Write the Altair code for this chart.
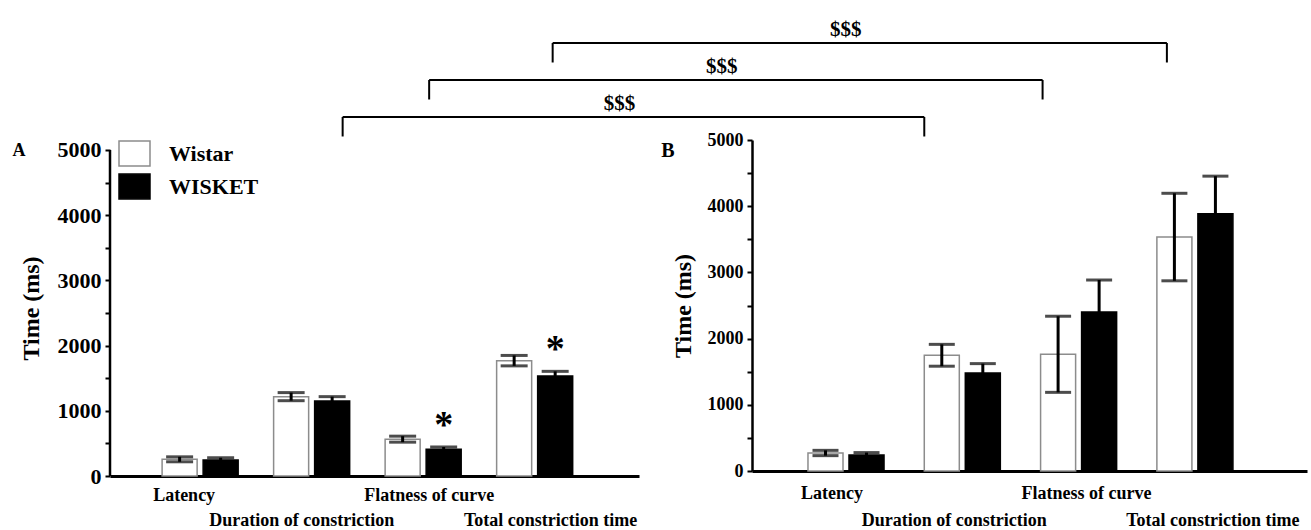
import altair as alt
import pandas as pd

FONT = "Liberation Serif"

measures = ["Latency", "Duration of constriction", "Flatness of curve", "Total constriction time"]
groups = ["Wistar", "WISKET"]

# Panel A: mean and SEM (ms)
a_wistar_mean = [256, 1217, 565, 1769]
a_wistar_sem = [38, 62, 46, 80]
a_wisket_mean = [245, 1150, 409, 1533]
a_wisket_sem = [35, 67, 36, 72]

# Panel B: mean and SEM (ms)
b_wistar_mean = [272, 1748, 1763, 3534]
b_wistar_sem = [40, 165, 575, 661]
b_wisket_mean = [240, 1481, 2403, 3887]
b_wisket_sem = [38, 141, 482, 567]

# WISKET vs Wistar differences marked in panel A
a_starred = ["Flatness of curve", "Total constriction time"]

# A vs B comparisons drawn as brackets across the panels
bracket_measures = ["Duration of constriction", "Flatness of curve", "Total constriction time"]
bracket_text = ["$$$", "$$$", "$$$"]


def frame(wm, ws, km, ks):
    rows = []
    for i, m in enumerate(measures):
        rows.append({"measure": m, "group": "Wistar", "mean": wm[i], "sem": ws[i]})
        rows.append({"measure": m, "group": "WISKET", "mean": km[i], "sem": ks[i]})
    df = pd.DataFrame(rows)
    df["lo"] = df["mean"] - df["sem"]
    df["hi"] = df["mean"] + df["sem"]
    return df


df_a = frame(a_wistar_mean, a_wistar_sem, a_wisket_mean, a_wisket_sem)
df_b = frame(b_wistar_mean, b_wistar_sem, b_wisket_mean, b_wisket_sem)

# panel geometry
GAP = 113
PANEL_A = dict(width=529, height=336, ymax=5153, pi=0.318, po=0.531, align=0.44, pi2=0.146,
               xfs=18, row1=19, row2=44, yfs=22, tpad=14, cap=27, letter="A", lfs=18,
               lx=-91, ly=16, axis_rule=True, legend=True)
PANEL_B = dict(width=555, height=331, ymax=5000, pi=0.312, po=0.542, align=0.444, pi2=0.14,
               xfs=18, row1=22, row2=49, yfs=18, tpad=12, cap=26, letter="B", lfs=20,
               lx=-84, ly=17, axis_rule=False, legend=False)

label_shift = {"Latency": -16, "Duration of constriction": -10,
               "Flatness of curve": 6, "Total constriction time": 16}
second_row = ["Duration of constriction", "Total constriction time"]


def band_centers(width, pi, po, align, n=4):
    step = width / (n - pi + 2 * po)
    bw = step * (1 - pi)
    start = (width - step * (n - pi)) * align
    return [start + i * step + bw / 2 for i in range(n)], bw


def panel(df, p):
    row_test = "indexof(" + str(second_row) + ", datum.value) >= 0"
    x = alt.X(
        "measure:N", sort=measures,
        scale=alt.Scale(paddingInner=p["pi"], paddingOuter=p["po"], align=p["align"]),
        axis=alt.Axis(
            title=None, domainWidth=3, domainColor="black", ticks=False, labelAngle=0,
            labelFont=FONT, labelFontWeight="bold", labelFontSize=p["xfs"], labelColor="black",
            labelBaseline="middle", labelLimit=400,
            labelPadding={"condition": {"test": row_test, "value": p["row2"]}, "value": p["row1"]},
            labelOffset={"condition": [{"test": f"datum.value === '{k}'", "value": v}
                                       for k, v in label_shift.items()], "value": 0},
        ),
    )
    xo = alt.XOffset("group:N", sort=groups, scale=alt.Scale(paddingInner=p["pi2"], paddingOuter=0))
    yaxis = alt.Axis(
        title="Time (ms)", values=list(range(0, 5001, 500)), format="d",
        labelExpr="datum.value % 1000 === 0 ? datum.label : ''",
        grid=False, domain=not p["axis_rule"], domainWidth=2.5, domainColor="black",
        tickColor="black", tickWidth=2, tickSize=5, labelPadding=4,
        labelFont=FONT, labelFontWeight="bold", labelFontSize=p["yfs"], labelColor="black",
        titleFont=FONT, titleFontWeight="bold", titleFontSize=24, titleColor="black",
        titlePadding=p["tpad"],
    )
    yscale = alt.Scale(domain=[0, p["ymax"]], nice=False, zero=True)

    if p["legend"]:
        legend = alt.Legend(
            title=None, orient="none", legendX=8, legendY=-3,
            symbolType="M-1,-0.8H1V0.8H-1Z", symbolSize=961, symbolStrokeWidth=1.5,
            labelFont=FONT, labelFontSize=22, labelFontWeight="bold", labelColor="black",
            labelOffset=18, rowPadding=1,
        )
    else:
        legend = None

    fill = alt.Fill("group:N", sort=groups, scale=alt.Scale(domain=groups, range=["white", "black"]),
                    legend=legend)
    stroke = alt.Stroke("group:N", sort=groups, scale=alt.Scale(domain=groups, range=["#8c8c8c", "black"]),
                        legend=legend)

    base = alt.Chart(df)
    bars = base.mark_bar(strokeWidth=1.5).encode(
        x=x, xOffset=xo, y=alt.Y("mean:Q", scale=yscale, axis=yaxis), fill=fill, stroke=stroke)
    whisk = base.mark_rule(color="black", strokeWidth=3).encode(
        x=x, xOffset=xo, y=alt.Y("lo:Q", scale=yscale, axis=yaxis), y2="hi:Q")
    caps = base.transform_fold(["lo", "hi"], as_=["end", "v"]).mark_tick(
        color="black", thickness=3, size=p["cap"]).encode(
        x=x, xOffset=xo, y=alt.Y("v:Q", scale=yscale, axis=yaxis))
    letter = alt.Chart(pd.DataFrame({"t": [p["letter"]]})).mark_text(
        font=FONT, fontWeight="bold", fontSize=p["lfs"], color="black", baseline="alphabetic",
        align="center").encode(text="t:N", x=alt.value(p["lx"]), y=alt.value(p["ly"]))
    layers = [bars, whisk, caps, letter]

    if p["axis_rule"]:
        axis_line = alt.Chart(pd.DataFrame({"a": [0], "b": [5000]})).mark_rule(
            color="black", strokeWidth=2.5).encode(
            x=alt.value(0), y=alt.Y("a:Q", scale=yscale, axis=yaxis), y2="b:Q")
        layers.append(axis_line)

    if p["legend"]:
        stars = base.transform_filter(
            alt.FieldOneOfPredicate(field="measure", oneOf=a_starred)
        ).transform_filter(alt.datum.group == "WISKET").mark_text(
            text="*", font=FONT, fontWeight="bold", fontSize=38, color="black",
            baseline="alphabetic", dy=-10).encode(
            x=x, xOffset=xo, y=alt.Y("hi:Q", scale=yscale, axis=yaxis))
        layers.append(stars)

    return alt.layer(*layers).properties(width=p["width"], height=p["height"])


chart_a = panel(df_a, PANEL_A)
chart_b = panel(df_b, PANEL_B)

# bracket strip spanning both panels; x runs in strip pixels from panel A's plot origin
STRIP_W = PANEL_A["width"] + GAP + PANEL_B["width"]
STRIP_H = 135
ca, _ = band_centers(PANEL_A["width"], PANEL_A["pi"], PANEL_A["po"], PANEL_A["align"])
cb, bwb = band_centers(PANEL_B["width"], PANEL_B["pi"], PANEL_B["po"], PANEL_B["align"])
left_shift = [31, 6, 18]
right_shift = [0, 2, 10]
br_rows = []
for k, m in enumerate(bracket_measures):
    i = measures.index(m)
    left = ca[i] + left_shift[k]
    right = PANEL_A["width"] + GAP + cb[i] - bwb / 2 + right_shift[k]
    br_rows.append({"level": k + 1, "left": left, "right": right,
                    "mid": (left + right) / 2 - 14, "label": bracket_text[k]})
df_br = pd.DataFrame(br_rows)
df_br["foot"] = df_br["level"] - 0.527
df_br["text_y"] = df_br["level"] + 0.35

sx = alt.Scale(domain=[0, STRIP_W], nice=False, zero=False)
sy = alt.Scale(domain=[0.378, 4.027], nice=False, zero=False)
sb = alt.Chart(df_br)
top_line = sb.mark_rule(color="black", strokeWidth=2).encode(
    x=alt.X("left:Q", scale=sx, axis=None), x2="right:Q", y=alt.Y("level:Q", scale=sy, axis=None))
leg_l = sb.mark_rule(color="black", strokeWidth=2).encode(
    x=alt.X("left:Q", scale=sx, axis=None), y=alt.Y("level:Q", scale=sy, axis=None), y2="foot:Q")
leg_r = sb.mark_rule(color="black", strokeWidth=2).encode(
    x=alt.X("right:Q", scale=sx, axis=None), y=alt.Y("level:Q", scale=sy, axis=None), y2="foot:Q")
txt = sb.mark_text(font=FONT, fontWeight="bold", fontSize=21, color="black", baseline="middle").encode(
    x=alt.X("mid:Q", scale=sx, axis=None), y=alt.Y("text_y:Q", scale=sy, axis=None), text="label:N")
strip = alt.layer(top_line, leg_l, leg_r, txt).properties(width=STRIP_W, height=STRIP_H)

panels = alt.hconcat(chart_a, chart_b, spacing=GAP, bounds="flush").resolve_scale(
    fill="independent", stroke="independent").resolve_legend(fill="independent", stroke="independent")

chart = alt.vconcat(strip, panels, spacing=0, bounds="flush").resolve_scale(
    fill="independent", stroke="independent").resolve_legend(
    fill="independent", stroke="independent").properties(
    padding={"left": 12, "top": 5, "right": 2, "bottom": 0},
    background="white",
).configure(font=FONT).configure_view(strokeWidth=0, stroke="transparent")

chart.save("out.html", embed_options={"renderer": "svg", "actions": False})
